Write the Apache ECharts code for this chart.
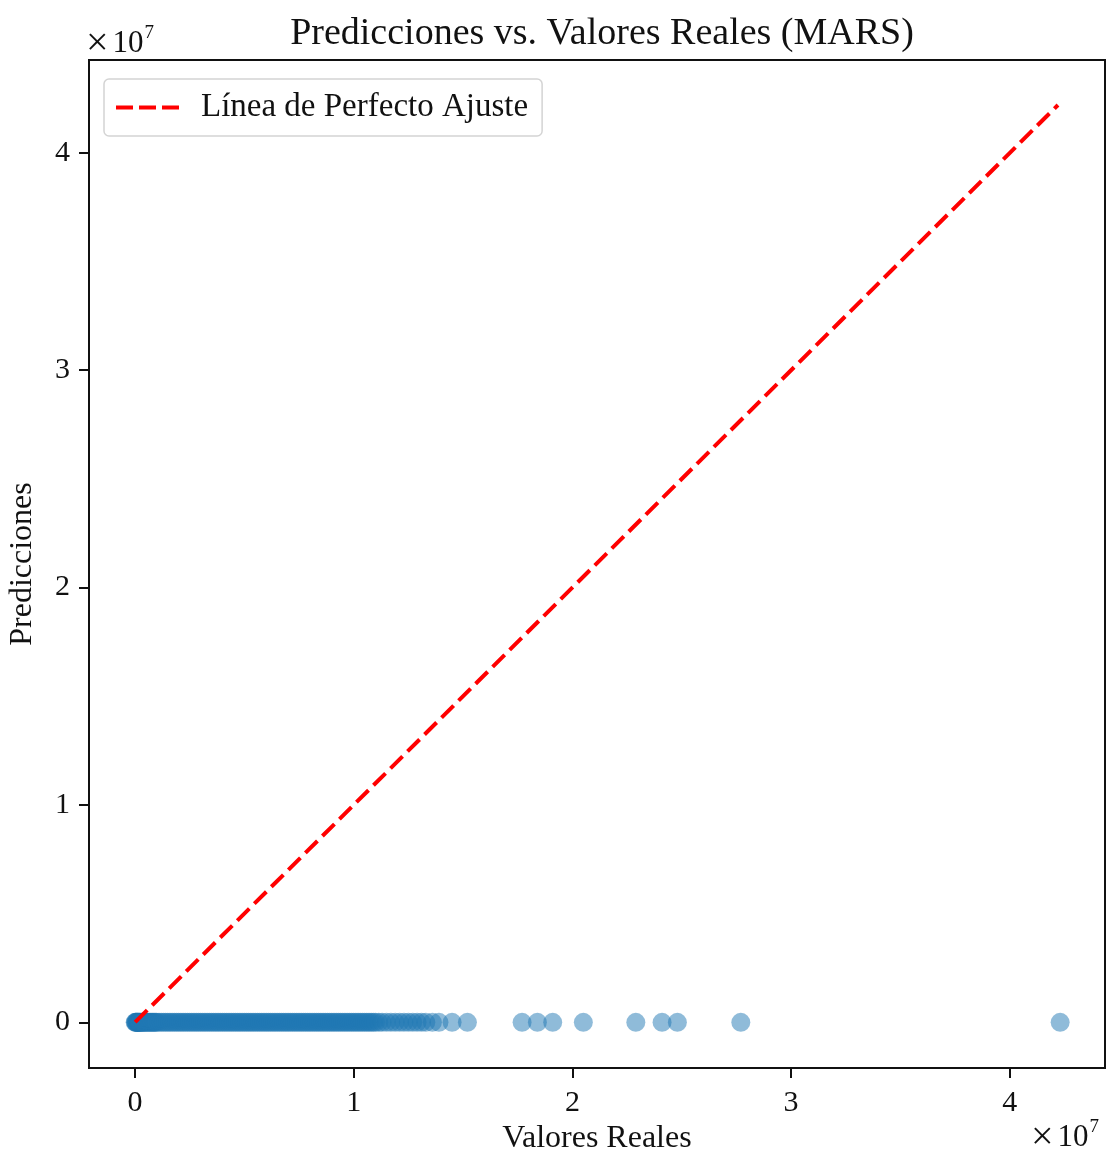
<!DOCTYPE html>
<html>
<head>
<meta charset="utf-8">
<script src="https://cdn.jsdelivr.net/npm/echarts@6/dist/echarts.min.js"></script>
<style>html,body{margin:0;padding:0;background:#fff;overflow:hidden}#c{width:1107px;height:1151px}</style>
</head>
<body>
<div id="c"></div>
<script>
// Real values (Valores Reales)
const realValues = [
  0.01e6, 0.03e6, 0.05e6, 0.07e6, 0.09e6, 0.11e6, 0.13e6, 0.15e6, 0.18e6, 0.2e6,
  0.23e6, 0.26e6, 0.3e6, 0.33e6, 0.37e6, 0.4e6, 0.45e6, 0.5e6, 0.55e6, 0.6e6,
  0.65e6, 0.7e6, 0.75e6, 0.8e6, 0.85e6, 0.9e6, 0.95e6, 1.0e6, 1.1e6, 1.2e6,
  1.3e6, 1.4e6, 1.5e6, 1.6e6, 1.7e6, 1.8e6, 1.9e6, 2.0e6, 2.1e6, 2.2e6,
  2.3e6, 2.4e6, 2.5e6, 2.6e6, 2.7e6, 2.8e6, 2.9e6, 3.0e6, 3.1e6, 3.2e6,
  3.3e6, 3.4e6, 3.5e6, 3.6e6, 3.7e6, 3.8e6, 3.9e6, 4.0e6, 4.1e6, 4.2e6,
  4.3e6, 4.4e6, 4.5e6, 4.6e6, 4.7e6, 4.8e6, 4.9e6, 5.0e6, 5.1e6, 5.2e6,
  5.3e6, 5.4e6, 5.5e6, 5.6e6, 5.7e6, 5.8e6, 5.9e6, 6.0e6, 6.1e6, 6.2e6,
  6.3e6, 6.4e6, 6.5e6, 6.6e6, 6.7e6, 6.8e6, 6.9e6, 7.0e6, 7.1e6, 7.2e6,
  7.3e6, 7.4e6, 7.5e6, 7.6e6, 7.7e6, 7.8e6, 7.9e6, 8.0e6, 8.1e6, 8.2e6,
  8.3e6, 8.4e6, 8.5e6, 8.6e6, 8.7e6, 8.8e6, 8.9e6, 9.0e6, 9.1e6, 9.2e6,
  9.3e6, 9.4e6, 9.5e6, 9.6e6, 9.7e6, 9.8e6, 9.9e6, 10.0e6, 10.1e6, 10.2e6,
  10.3e6, 10.4e6, 10.5e6, 10.6e6, 10.7e6, 10.8e6, 10.9e6, 11.0e6, 11.15e6, 11.3e6,
  11.5e6, 11.7e6, 11.9e6, 12.1e6, 12.3e6, 12.5e6, 12.7e6, 12.9e6, 13.1e6, 13.3e6,
  13.6e6, 13.9e6, 14.5e6, 15.2e6, 17.7e6, 18.4e6, 19.1e6, 20.5e6, 22.9e6, 24.1e6,
  24.8e6, 27.7e6, 42.3e6
];
// Predictions (Predicciones) — all essentially zero at this scale
const predValues = [
  0, 0, 0, 0, 0, 0, 0, 0, 0, 0,
  0, 0, 0, 0, 0, 0, 0, 0, 0, 0,
  0, 0, 0, 0, 0, 0, 0, 0, 0, 0,
  0, 0, 0, 0, 0, 0, 0, 0, 0, 0,
  0, 0, 0, 0, 0, 0, 0, 0, 0, 0,
  0, 0, 0, 0, 0, 0, 0, 0, 0, 0,
  0, 0, 0, 0, 0, 0, 0, 0, 0, 0,
  0, 0, 0, 0, 0, 0, 0, 0, 0, 0,
  0, 0, 0, 0, 0, 0, 0, 0, 0, 0,
  0, 0, 0, 0, 0, 0, 0, 0, 0, 0,
  0, 0, 0, 0, 0, 0, 0, 0, 0, 0,
  0, 0, 0, 0, 0, 0, 0, 0, 0, 0,
  0, 0, 0, 0, 0, 0, 0, 0, 0, 0,
  0, 0, 0, 0, 0, 0, 0, 0, 0, 0,
  0, 0, 0, 0, 0, 0, 0, 0, 0, 0,
  0, 0, 0
];
// Perfect-fit line endpoints (min and max of real values)
const perfectLine = [[0.01e6, 0.01e6], [42.2e6, 42.2e6]];
const tickValues = [0, 1e7, 2e7, 3e7, 4e7];
const titleText = 'Predicciones vs. Valores Reales (MARS)';
const xName = 'Valores Reales';
const yName = 'Predicciones';
const legendName = 'Línea de Perfecto Ajuste';

const scatterData = realValues.map((v, i) => [v, predValues[i]]);
const FONT = '"Liberation Serif", "DejaVu Serif", serif';
const offsetRich = {
  x: {fontFamily: FONT, fontSize: 40, fill: '#111', padding: [0, 4, 0, 0]},
  n: {fontFamily: FONT, fontSize: 31, fill: '#111'},
  s: {fontFamily: FONT, fontSize: 19, fill: '#111', verticalAlign: 'top', padding: [0, 0, 16, 1]}
};
const chart = echarts.init(document.getElementById('c'), null, {renderer: 'canvas'});
chart.setOption({
  backgroundColor: '#fff',
  animation: false,
  title: {
    text: titleText, left: 597, top: 10, textAlign: 'center',
    textStyle: {fontFamily: FONT, fontSize: 38, fontWeight: 'normal', color: '#111'}
  },
  grid: {left: 89, right: 2, top: 60, bottom: 83, show: true, borderColor: '#111', borderWidth: 2, containLabel: false, outerBoundsMode: 'none'},
  legend: {
    data: [{name: legendName, icon: 'path://M0,0h17v4h-17z M23,0h17v4h-17z M46,0h17v4h-17z'}],
    left: 104, top: 79, orient: 'vertical',
    padding: [12, 14, 12, 12], itemWidth: 63, itemHeight: 4, itemGap: 0,
    itemStyle: {color: '#ff0000'},
    borderColor: '#d4d4d4', borderWidth: 1.5, borderRadius: 5, backgroundColor: 'rgba(255,255,255,0.8)',
    textStyle: {fontFamily: FONT, fontSize: 33, color: '#111', padding: [0, 0, 0, 17], lineHeight: 32}
  },
  xAxis: {
    type: 'value', min: -2.1e6, max: 44.35e6,
    name: xName, nameLocation: 'middle', nameGap: 54,
    nameTextStyle: {fontFamily: FONT, fontSize: 32, color: '#111'},
    axisLine: {show: true, onZero: false, lineStyle: {color: '#111', width: 2}},
    axisTick: {show: true, inside: false, length: 10, lineStyle: {color: '#111', width: 2}, customValues: tickValues},
    axisLabel: {fontFamily: FONT, fontSize: 30, color: '#111', margin: 20, customValues: tickValues, formatter: v => String(Math.round(v / 1e7))},
    splitLine: {show: false}
  },
  yAxis: {
    type: 'value', min: -2.1e6, max: 44.27e6,
    name: yName, nameLocation: 'middle', nameGap: 50,
    nameTextStyle: {fontFamily: FONT, fontSize: 32, color: '#111'},
    axisLine: {show: true, onZero: false, lineStyle: {color: '#111', width: 2}},
    axisTick: {show: true, inside: false, length: 10, lineStyle: {color: '#111', width: 2}, customValues: tickValues},
    axisLabel: {fontFamily: FONT, fontSize: 30, color: '#111', margin: 19, customValues: tickValues, formatter: v => String(Math.round(v / 1e7))},
    splitLine: {show: false}
  },
  graphic: [
    {type: 'text', left: 86, top: 24, style: {text: '{x|×}{n|10}{s|7}', rich: offsetRich}},
    {type: 'text', right: 8, top: 1118, style: {text: '{x|×}{n|10}{s|7}', rich: offsetRich}}
  ],
  series: [
    {
      type: 'scatter', name: 'scatter', data: scatterData, symbolSize: 19,
      itemStyle: {color: '#1f77b4', opacity: 0.5}, z: 2
    },
    {
      type: 'line', name: legendName, data: perfectLine, symbol: 'none',
      lineStyle: {color: '#ff0000', width: 4, type: [17, 7]}, itemStyle: {color: '#ff0000'}, z: 3
    }
  ]
});
</script>
</body>
</html>
